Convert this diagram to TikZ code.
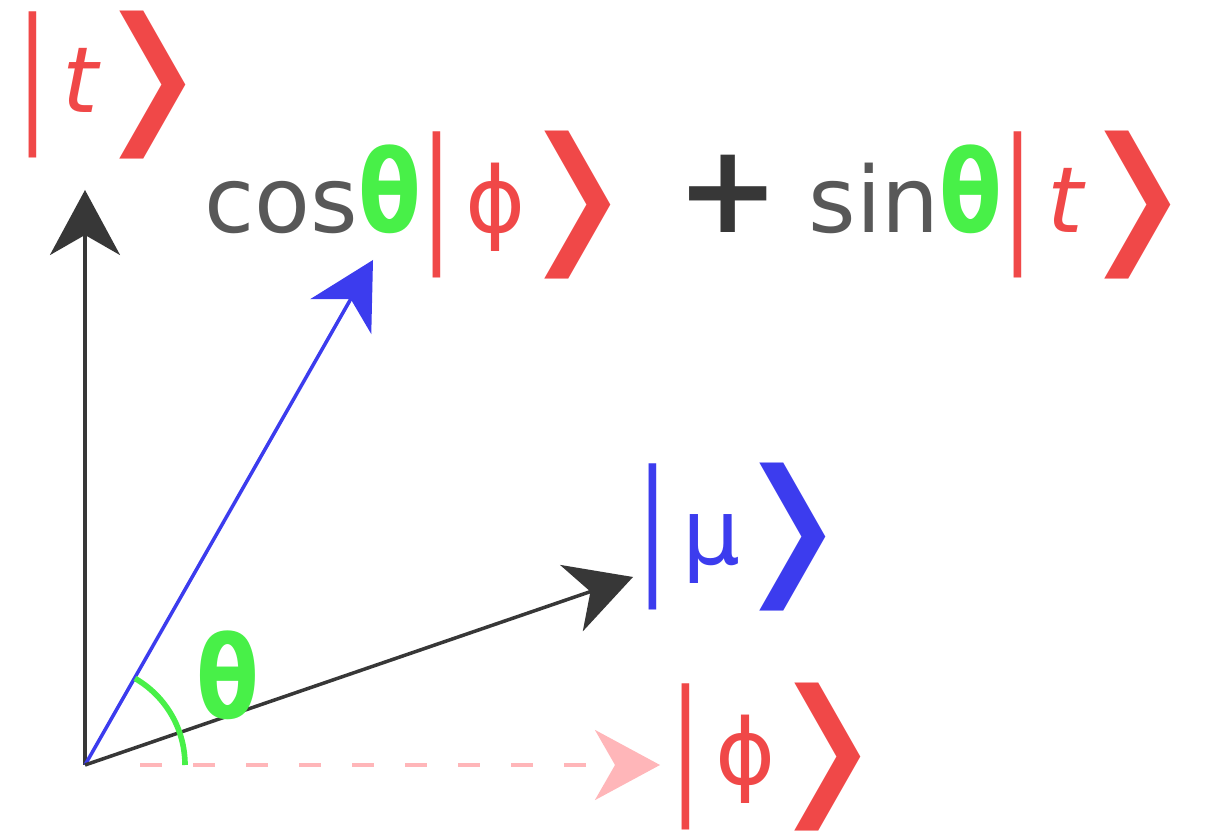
\documentclass[tikz,border=0pt]{standalone}
\usepackage{fontspec}
\setmainfont{DejaVu Sans}
\usepackage{graphicx}
\usetikzlibrary{arrows.meta}
\definecolor{rosso}{RGB}{240,72,72}
\definecolor{verde}{RGB}{72,240,72}
\definecolor{blu}{RGB}{60,60,238}
\definecolor{rosa}{RGB}{255,182,185}
\definecolor{grigio}{RGB}{88,88,88}
\definecolor{scuro}{RGB}{55,55,55}
\newcommand{\centra}[1]{\raisebox{0.06em}{$\vcenter{\hbox{#1}}$}}
\newcommand{\barra}{\centra{\scalebox{1}[1.6]{|}}}
\newcommand{\chiudi}{\centra{\scalebox{1.85}[1.62]{❭}}}
\newcommand{\ketv}[2]{{\color{#1}\barra\kern0.15em#2\kern-0.22em\chiudi}}
\newcommand{\teta}{{\color{verde}\scalebox{1}[1.25]{\textbf{θ}}}}

\begin{document}
\begin{tikzpicture}[>={Stealth[length=6.5mm, width=7mm, inset=2mm]},
		every node/.style={font=\fontsize{26}{30}\selectfont, inner sep=0pt}]
				\useasboundingbox (0,0) rectangle (12.05,8.35);
				% Vettori
				\coordinate (O) at (0.85,0.70);
				\coordinate (T) at (0.85,6.45);
				\coordinate (S) at (3.73,5.75);
				\coordinate (M) at (6.33,2.58);
				\coordinate (F) at (6.60,0.70);
				\draw[->, line width=1pt, scuro] (O) -- (T);
				\draw[->, line width=1pt, blu] (O) -- (S);
				\draw[->, line width=1pt, scuro] (O) -- (M);
				\draw[->, line width=1pt, rosa, dash pattern=on 2.2mm off 3.1mm, shorten <=5.5mm] (O) -- (F);

				% Angolo
				\draw[verde, line width=1.6pt] (O) ++(60:1) arc[start angle=60, end angle=0, radius=1];
				\node (ang) at (2.28,1.60) {\teta};

				% Etichette
				\node (kt) at (1.20,7.50) {\ketv{rosso}{\textit{t}}};
				\node (km) at (7.50,2.98) {\ketv{blu}{μ}};
				\node (kf) at (7.84,0.78) {\ketv{rosso}{ϕ}};
				\node (sum) at (7.06,6.30) {{\color{grigio}cos}\teta\ketv{rosso}{ϕ} {\color{scuro}\scalebox{1.35}{\textbf{+}}} {\color{grigio}sin}\teta\ketv{rosso}{\textit{t}}};
			\end{tikzpicture}
\end{document}
